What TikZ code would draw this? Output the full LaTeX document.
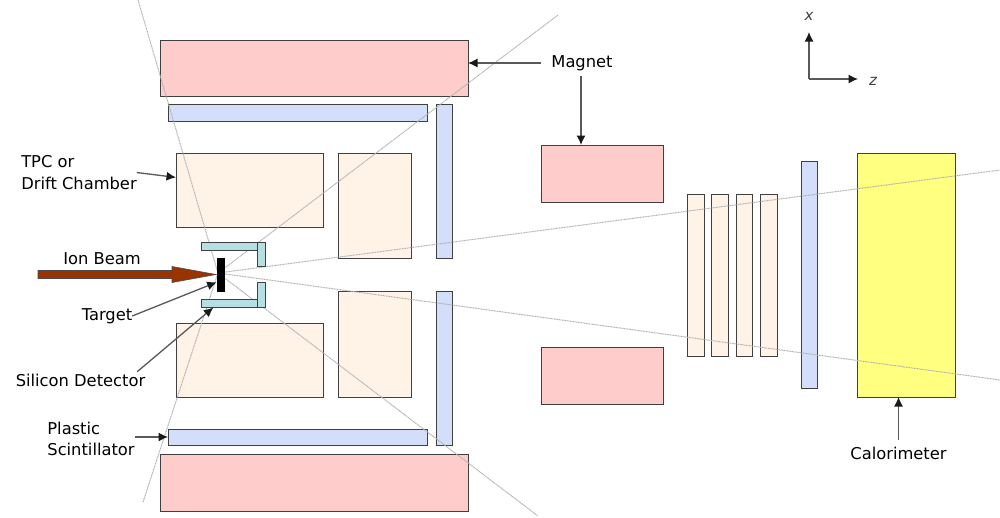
\documentclass[tikz,border=0pt]{standalone}
\usepackage{fontspec}
\setmainfont{DejaVu Sans}
\usetikzlibrary{arrows.meta,calc}
\definecolor{magnetc}{HTML}{FFCCCC}
\definecolor{scintc}{HTML}{D2DEFA}
\definecolor{tpcc}{HTML}{FFF3E8}
\definecolor{silc}{HTML}{B5DFE3}
\definecolor{beamc}{HTML}{993300}
\definecolor{calc}{HTML}{FFFF80}
\definecolor{edgec}{HTML}{404040}
\tikzset{
  boxb/.style={draw=edgec,line width=1pt,inner sep=0pt,outer sep=0pt},
  magnetbox/.style={boxb,fill=magnetc},
  scintbox/.style={boxb,fill=scintc},
  tpcbox/.style={boxb,fill=tpcc},
  silbox/.style={boxb,fill=silc},
  calobox/.style={boxb,fill=calc},
  targetbox/.style={inner sep=0pt,outer sep=0pt,fill=black},
  lbl/.style={inner sep=0pt,outer sep=0pt,font=\fontsize{16.3pt}{21.5pt}\selectfont,text=black,align=left},
  axlbl/.style={inner sep=0pt,font=\fontsize{15pt}{15pt}\selectfont\itshape,text=black!75},
  arr/.style={draw=black!65,line width=1.3pt,-{Latex[length=9.5pt,width=9pt,black!90]}},
  ray/.style={draw=black!30,line width=1pt,dash pattern=on 1pt off 0.6pt},
}
\newcommand{\rectnode}[6]{% style, name, x1, y1, x2, y2
  \pgfmathsetmacro{\rcx}{(#3+#5)/2}\pgfmathsetmacro{\rcy}{(#4+#6)/2}
  \pgfmathsetmacro{\rw}{#5-#3}\pgfmathsetmacro{\rh}{#6-#4}
  \node[#1,minimum width=\rw pt,minimum height=\rh pt] (#2) at (\rcx,\rcy) {};}
\begin{document}
\begin{tikzpicture}[x=1pt,y=-1pt]
\useasboundingbox (0,0) rectangle (1000,517);
\fill[white] (0,0) rectangle (1000,517);
\coordinate (v) at (218,273);
\coordinate (rayUL) at (138,0);
\coordinate (rayLL) at (143,502);
\coordinate (rayUR) at (558,15);
\coordinate (rayLR) at (538,516);
\coordinate (rayR1) at (1000,170);
\coordinate (rayR2) at (1000,380);
\rectnode{magnetbox}{magA}{160}{40}{468}{96}
\rectnode{magnetbox}{magB}{160}{454}{468}{511}
\rectnode{magnetbox}{magC}{541}{145}{663}{202}
\rectnode{magnetbox}{magD}{541}{347}{663}{404}
\rectnode{scintbox}{scA}{168}{104}{427}{121}
\rectnode{scintbox}{scB}{168}{429}{427}{445}
\rectnode{scintbox}{scC}{436}{104}{452}{258}
\rectnode{scintbox}{scD}{436}{291}{452}{445}
\rectnode{tpcbox}{tpcA}{176}{153}{323}{227}
\rectnode{tpcbox}{tpcB}{176}{323}{323}{397}
\rectnode{tpcbox}{tpcC}{338}{153}{411}{258}
\rectnode{tpcbox}{tpcD}{338}{291}{411}{397}
\rectnode{tpcbox}{stA}{687}{194}{704}{356}
\rectnode{tpcbox}{stB}{711}{194}{728}{356}
\rectnode{tpcbox}{stC}{736}{194}{752}{356}
\rectnode{tpcbox}{stD}{760}{194}{777}{356}
\rectnode{scintbox}{scE}{801}{161}{817}{388}
\rectnode{calobox}{calo}{857}{153}{955}{397}
\draw[ray] (v)--(rayUL) (v)--(rayLL) (v)--(rayUR) (v)--(rayLR) (v)--(rayR1) (v)--(rayR2);
\rectnode{silbox}{silA}{201}{242}{257}{250}
\rectnode{silbox}{silB}{257}{242}{265.5}{266}
\rectnode{silbox}{silC}{201}{299}{257}{307.5}
\rectnode{silbox}{silD}{257}{282}{265.5}{307.5}
\rectnode{targetbox}{target}{216.7}{257.7}{225.3}{291.7}
\fill[beamc,draw=black!70,line width=0.6pt] (38,270.5)--(172,270.5)--(172,266.5)--(216,274.5)--(172,282.5)--(172,278.5)--(38,278.5)--cycle;
\node[lbl] (lMagnet) at (582,63) {Magnet};
\node[lbl] (lTpc) at (79,172.5) {TPC or\\Drift Chamber};
\node[lbl] (lIon) at (102,259) {Ion Beam};
\node[lbl] (lTarget) at (107,316) {Target};
\node[lbl] (lSil) at (80.5,380) {Silicon Detector};
\node[lbl] (lPlastic) at (91,439) {Plastic\\Scintillator};
\node[lbl] (lCalo) at (898.5,453) {Calorimeter};
\node[axlbl] (lx) at (809,16) {x};
\node[axlbl] (lz) at (873,81) {z};
\coordinate (origin) at (809,79);
\coordinate (xtip) at (809,32);
\coordinate (ztip) at (858,79);
\coordinate (mStart) at ($(lMagnet.south)+(-1,5)$);
\coordinate (cStart) at ($(lCalo.north)+(0,-7)$);
\draw[arr] ($(lMagnet.west)+(-10,0)$)--(magA.east|-lMagnet.west);
\draw[arr] (mStart)--(mStart|-magC.north);
\draw[arr] (lTpc.east)--($(tpcA.north west)!0.33!(tpcA.south west)$);
\draw[arr] (lTarget.east)--($(target.north west)!0.72!(target.south west)$);
\draw[arr] ($(lSil.north east)+(-8,-2)$)--($(silC.south west)!0.22!(silC.south east)$);
\draw[arr] (lPlastic.east|-scB.west)--(scB.west);
\draw[arr] (cStart)--(cStart|-calo.south);
\draw[arr] (origin)--(xtip);
\draw[arr] (origin)--(ztip);
\end{tikzpicture}
\end{document}
